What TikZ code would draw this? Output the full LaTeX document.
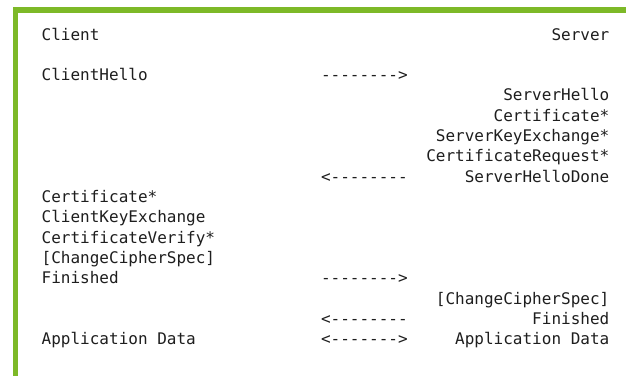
\documentclass[tikz,border=0pt]{standalone}
\usepackage{fontspec}
\setmonofont{DejaVu Sans Mono}
\definecolor{bargreen}{HTML}{7DB928}
\definecolor{ink}{HTML}{1E1E1E}
\begin{document}
\begin{tikzpicture}[x=1pt,y=-1pt,
  txt/.style={inner sep=0pt,text=ink,font=\ttfamily\fontsize{16}{20}\selectfont},
  lcol/.style={txt,anchor=base west},
  rcol/.style={txt,anchor=base east},
  acol/.style={txt,anchor=base west}]
  % page frame
  \useasboundingbox (0,0) rectangle (626,376);
  \fill[white] (0,0) rectangle (626,376);
  % green bars framing the listing
  \fill[bargreen] (12.5,7) rectangle (626,13);
  \fill[bargreen] (12.5,7) rectangle (17.5,376);
  % column positions and line pitch
  \def\xl{41.5}
  \def\xa{320.8}
  \def\xr{609.5}
  \def\ln#1{(40+20.33*#1)}
  % line 0
  \node[lcol] (client) at (\xl,{40+20.33*0}) {Client};
  \node[rcol] (server) at (\xr,{40+20.33*0}) {Server};
  % line 2
  \node[lcol] (chello) at (\xl,{40+20.33*2}) {ClientHello};
  \node[acol] (a1) at (\xa,{40+20.33*2}) {-------->};
  % lines 3-7
  \node[rcol] (shello) at (\xr,{40+20.33*3}) {ServerHello};
  \node[rcol] (scert) at (\xr,{40+20.33*4}) {Certificate*};
  \node[rcol] (ske) at (\xr,{40+20.33*5}) {ServerKeyExchange*};
  \node[rcol] (creq) at (\xr,{40+20.33*6}) {CertificateRequest*};
  \node[acol] (a2) at (\xa,{40+20.33*7}) {<--------};
  \node[rcol] (shd) at (\xr,{40+20.33*7}) {ServerHelloDone};
  % lines 8-12
  \node[lcol] (ccert) at (\xl,{40+20.33*8}) {Certificate*};
  \node[lcol] (cke) at (\xl,{40+20.33*9}) {ClientKeyExchange};
  \node[lcol] (cv) at (\xl,{40+20.33*10}) {CertificateVerify*};
  \node[lcol] (cccs) at (\xl,{40+20.33*11}) {[ChangeCipherSpec]};
  \node[lcol] (cfin) at (\xl,{40+20.33*12}) {Finished};
  \node[acol] (a3) at (\xa,{40+20.33*12}) {-------->};
  % lines 13-15
  \node[rcol] (sccs) at (\xr,{40+20.33*13}) {[ChangeCipherSpec]};
  \node[acol] (a4) at (\xa,{40+20.33*14}) {<--------};
  \node[rcol] (sfin) at (\xr,{40+20.33*14}) {Finished};
  \node[lcol] (cdata) at (\xl,{40+20.33*15}) {Application Data};
  \node[acol] (a5) at (\xa,{40+20.33*15}) {<------->};
  \node[rcol] (sdata) at (\xr,{40+20.33*15}) {Application Data};
\end{tikzpicture}
\end{document}
